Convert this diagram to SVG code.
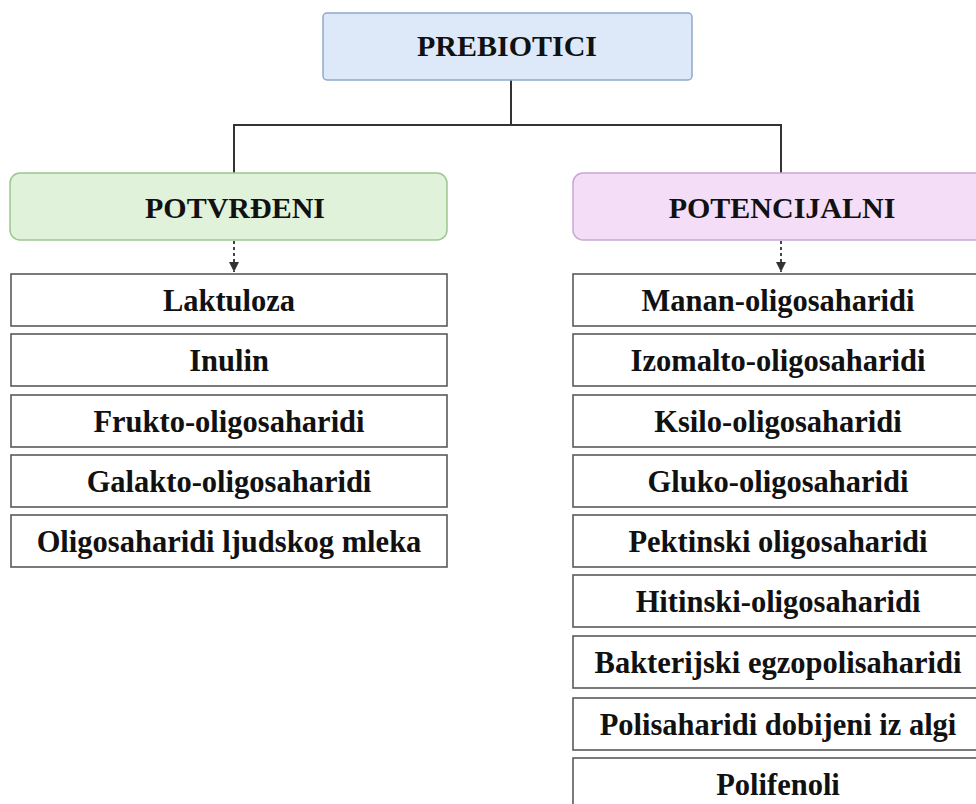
<svg xmlns="http://www.w3.org/2000/svg" width="976" height="804" viewBox="0 0 976 804">
<defs>
<style>
.t{font-family:"Liberation Serif","Times New Roman",serif;font-weight:bold;fill:#111;text-anchor:middle}
.h{font-size:30px}
.i{font-size:30.5px}
.item{fill:#fff;stroke:#5a5a5a;stroke-width:1.6}
.ln{fill:none;stroke:#333;stroke-width:2}
.dot{fill:none;stroke:#444;stroke-width:2;stroke-dasharray:3 3}
</style>
<marker id="ah" viewBox="0 0 10 10" refX="10" refY="5" markerWidth="5" markerHeight="5" orient="auto" markerUnits="strokeWidth">
<path d="M0,0 L10,5 L0,10 Z" fill="#333"/>
</marker>
</defs>
<rect width="976" height="804" fill="#fff"/>
<g id="connectors">
<path class="ln" d="M511,80 V125 M234,125 H781 M234,124 V173 M781,124 V173"/>
<path class="dot" d="M234,241 V272" marker-end="url(#ah)"/>
<path class="dot" d="M781,241 V272" marker-end="url(#ah)"/>
</g>
<g id="prebiotici">
<rect x="323" y="13" width="369" height="67" rx="4" fill="#dde9f8" stroke="#8fa9c9" stroke-width="1.5"/>
<text class="t h" x="507" y="56">PREBIOTICI</text>
</g>
<g id="potvrdjeni">
<rect x="10" y="173" width="437" height="67" rx="10" fill="#e0f2da" stroke="#9cc68f" stroke-width="1.5"/>
<text class="t h" x="235" y="218">POTVRĐENI</text>
</g>
<g id="potencijalni">
<rect x="573" y="173" width="420" height="67" rx="10" fill="#f4ddf7" stroke="#c9a6d2" stroke-width="1.5"/>
<text class="t h" x="782" y="218">POTENCIJALNI</text>
</g>
<g id="laktuloza"><rect class="item" x="11" y="274" width="436" height="52"/><text class="t i" x="229" y="311">Laktuloza</text></g>
<g id="inulin"><rect class="item" x="11" y="334" width="436" height="52"/><text class="t i" x="229" y="371">Inulin</text></g>
<g id="frukto"><rect class="item" x="11" y="395" width="436" height="52"/><text class="t i" x="229" y="432">Frukto-oligosaharidi</text></g>
<g id="galakto"><rect class="item" x="11" y="455" width="436" height="52"/><text class="t i" x="229" y="492">Galakto-oligosaharidi</text></g>
<g id="mleko"><rect class="item" x="11" y="515" width="436" height="52"/><text class="t i" x="229" y="552">Oligosaharidi ljudskog mleka</text></g>
<g id="manan"><rect class="item" x="573" y="274" width="420" height="52"/><text class="t i" x="778" y="311">Manan-oligosaharidi</text></g>
<g id="izomalto"><rect class="item" x="573" y="334" width="420" height="52"/><text class="t i" x="778" y="371">Izomalto-oligosaharidi</text></g>
<g id="ksilo"><rect class="item" x="573" y="395" width="420" height="52"/><text class="t i" x="778" y="432">Ksilo-oligosaharidi</text></g>
<g id="gluko"><rect class="item" x="573" y="455" width="420" height="52"/><text class="t i" x="778" y="492">Gluko-oligosaharidi</text></g>
<g id="pektinski"><rect class="item" x="573" y="515" width="420" height="52"/><text class="t i" x="778" y="552">Pektinski oligosaharidi</text></g>
<g id="hitinski"><rect class="item" x="573" y="575" width="420" height="52"/><text class="t i" x="778" y="612">Hitinski-oligosaharidi</text></g>
<g id="bakterijski"><rect class="item" x="573" y="636" width="420" height="52"/><text class="t i" x="778" y="673">Bakterijski egzopolisaharidi</text></g>
<g id="alge"><rect class="item" x="573" y="698" width="420" height="52"/><text class="t i" x="778" y="735">Polisaharidi dobijeni iz algi</text></g>
<g id="polifenoli"><rect class="item" x="573" y="758" width="420" height="52"/><text class="t i" x="778" y="795">Polifenoli</text></g>
</svg>
